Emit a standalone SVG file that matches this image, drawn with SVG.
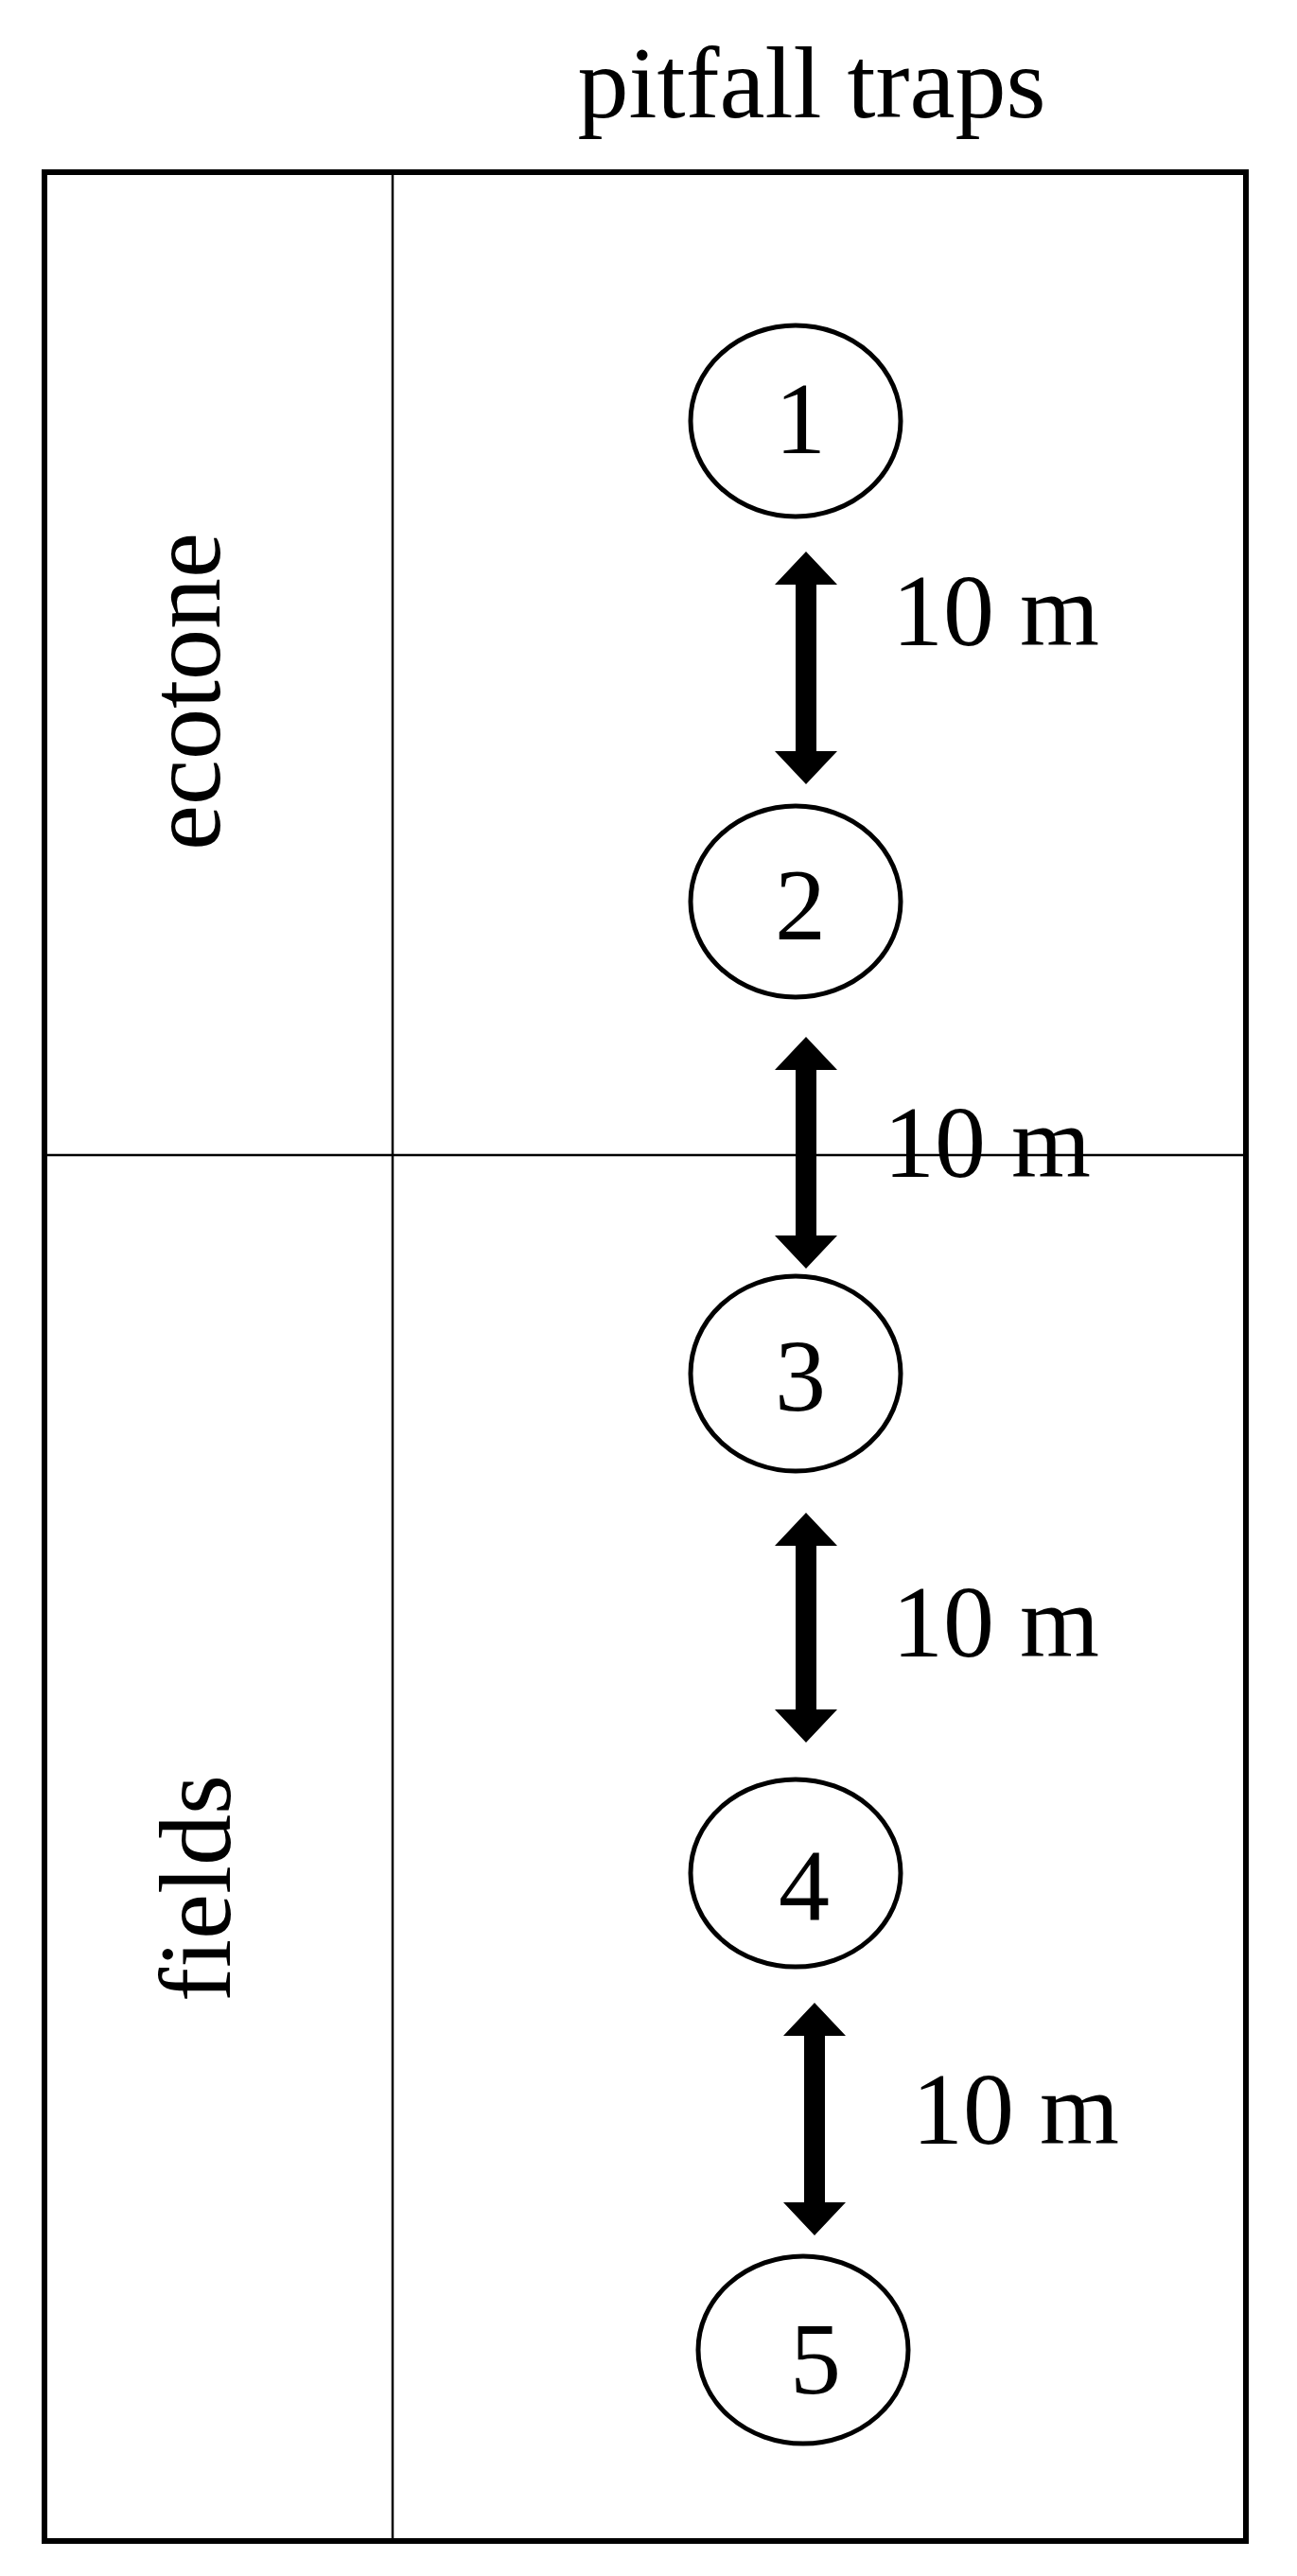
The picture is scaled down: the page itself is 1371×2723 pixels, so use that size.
<svg xmlns="http://www.w3.org/2000/svg" width="1371" height="2723" viewBox="0 0 1371 2723">
<style>
text{font-family:"Liberation Serif","Times New Roman",serif;font-size:108px;fill:#000}
.c{fill:#fff;stroke:#000;stroke-width:5}
.n{text-anchor:middle}
</style>
<defs>
<path id="arr" d="M0,0 L33,35 L11,35 L11,-35 L33,-35 L0,0 Z"/>
</defs>
<rect x="0" y="0" width="1371" height="2723" fill="#fff"/>
<g id="frame">
<rect x="47" y="182" width="1270" height="2504" fill="none" stroke="#000" stroke-width="6"/>
<line x1="415" y1="182" x2="415" y2="2686" stroke="#000" stroke-width="2.5"/>
<line x1="47" y1="1221" x2="1317" y2="1221" stroke="#000" stroke-width="2.5"/>
</g>
<text id="title" x="858" y="124" class="n">pitfall  traps</text>
<text id="ecotone" transform="translate(232,731) rotate(-90)" class="n">ecotone</text>
<text id="fields" transform="translate(243,1996) rotate(-90)" class="n">fields</text>
<g id="connectors" fill="#000">
<path d="M852,583 L885,618 L863,618 L863,794 L885,794 L852,829 L819,794 L841,794 L841,618 L819,618 Z"/>
<path d="M852,1096 L885,1131 L863,1131 L863,1306 L885,1306 L852,1341 L819,1306 L841,1306 L841,1131 L819,1131 Z"/>
<path d="M852,1599 L885,1634 L863,1634 L863,1807 L885,1807 L852,1842 L819,1807 L841,1807 L841,1634 L819,1634 Z"/>
<path d="M861,2117 L894,2152 L872,2152 L872,2328 L894,2328 L861,2363 L828,2328 L850,2328 L850,2152 L828,2152 Z"/>
<text x="943" y="682">10 m</text>
<text x="934" y="1244">10 m</text>
<text x="943" y="1751">10 m</text>
<text x="964" y="2266">10 m</text>
</g>
<g id="trap1"><ellipse class="c" cx="841" cy="445" rx="111" ry="101"/><text class="n" x="846" y="479">1</text></g>
<g id="trap2"><ellipse class="c" cx="841" cy="953" rx="111" ry="101"/><text class="n" x="846" y="993">2</text></g>
<g id="trap3"><ellipse class="c" cx="841" cy="1452" rx="111" ry="103"/><text class="n" x="846" y="1491">3</text></g>
<g id="trap4"><ellipse class="c" cx="841" cy="1980" rx="111" ry="99"/><text class="n" x="850" y="2030">4</text></g>
<g id="trap5"><ellipse class="c" cx="849" cy="2484" rx="111" ry="99"/><text class="n" x="862" y="2530">5</text></g>
</svg>
